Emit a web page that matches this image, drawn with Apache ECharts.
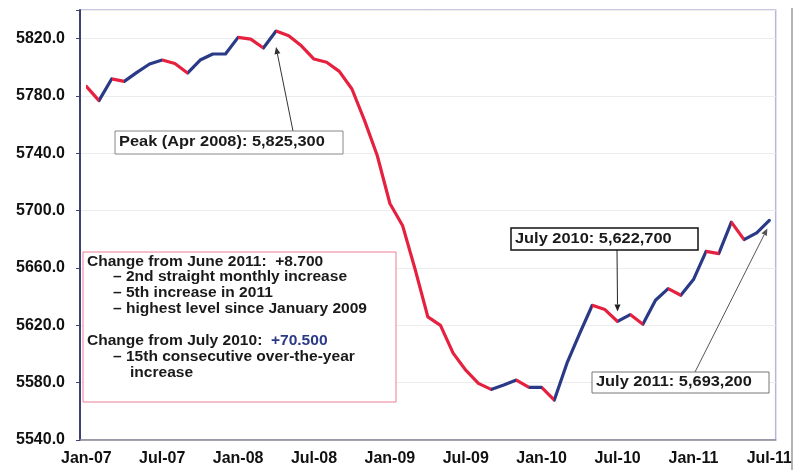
<!DOCTYPE html>
<html>
<head>
<meta charset="utf-8">
<script src="https://cdn.jsdelivr.net/npm/echarts@6/dist/echarts.min.js"></script>
<style>
  html, body { margin: 0; padding: 0; background: #fff; }
  #main { width: 795px; height: 470px; }
</style>
</head>
<body>
<div id="main"></div>
<script>
// monthly employment level, thousands (Jan 2007 - Jul 2011)
const categories = [
  'Jan-07','Feb-07','Mar-07','Apr-07','May-07','Jun-07','Jul-07','Aug-07','Sep-07','Oct-07','Nov-07','Dec-07',
  'Jan-08','Feb-08','Mar-08','Apr-08','May-08','Jun-08','Jul-08','Aug-08','Sep-08','Oct-08','Nov-08','Dec-08',
  'Jan-09','Feb-09','Mar-09','Apr-09','May-09','Jun-09','Jul-09','Aug-09','Sep-09','Oct-09','Nov-09','Dec-09',
  'Jan-10','Feb-10','Mar-10','Apr-10','May-10','Jun-10','Jul-10','Aug-10','Sep-10','Oct-10','Nov-10','Dec-10',
  'Jan-11','Feb-11','Mar-11','Apr-11','May-11','Jun-11','Jul-11'
];
const employment = [
  5786.7, 5776.8, 5791.9, 5790.2, 5796.5, 5802.3, 5805.1, 5802.7, 5796.0, 5805.1, 5809.3, 5809.3,
  5820.9, 5819.7, 5813.5, 5825.3, 5822.0, 5815.0, 5805.8, 5803.5, 5797.2, 5784.9, 5762.8, 5738.5,
  5705.0, 5689.7, 5659.0, 5625.9, 5620.0, 5600.6, 5588.7, 5579.5, 5575.3, 5578.3, 5581.8, 5576.7,
  5576.7, 5567.9, 5593.6, 5614.3, 5634.0, 5631.0, 5622.7, 5627.5, 5620.8, 5637.5, 5645.6, 5641.0,
  5651.9, 5671.6, 5670.0, 5692.0, 5679.8, 5684.5, 5693.2
];
const yTicks = { min: 5540, max: 5840, step: 40 };

const UP = '#2b3a86';
const DOWN = '#e5213f';
const FONT = '"Liberation Sans", Arial, sans-serif';

// colour each segment by direction of change
const pieces = [];
for (let i = 0; i < employment.length - 1; i++) {
  pieces.push({ gte: i, lt: i + 1, color: employment[i + 1] >= employment[i] ? UP : DOWN });
}
pieces.push({ gte: employment.length - 1, color: UP });

const everySix = (idx) => idx % 6 === 0;

const chart = echarts.init(document.getElementById('main'));
chart.setOption({
  animation: false,
  grid: { left: 80, right: 17, top: 10, bottom: 30, show: true, borderColor: '#b6b6dc', borderWidth: 1.5 },
  xAxis: {
    type: 'category',
    data: categories,
    boundaryGap: true,
    axisLine: { lineStyle: { color: '#8a8a96', width: 1.5 } },
    axisTick: { interval: everySix, length: 5, lineStyle: { color: '#8a8a96' } },
    axisLabel: {
      interval: everySix, margin: 11,
      color: '#111', fontFamily: FONT, fontWeight: 'bold', fontSize: 16
    },
    splitLine: { show: false }
  },
  yAxis: {
    type: 'value',
    min: yTicks.min, max: yTicks.max, interval: yTicks.step,
    axisLine: { show: true, lineStyle: { color: '#3e4270', width: 2 } },
    axisTick: { show: true, length: 4, lineStyle: { color: '#3e4270' } },
    axisLabel: {
      margin: 15, color: '#111', fontFamily: FONT, fontWeight: 'bold', fontSize: 16,
      formatter: (v) => (v >= yTicks.max ? '' : v.toFixed(1))
    },
    splitLine: { lineStyle: { color: '#ececec' } }
  },
  visualMap: { show: false, type: 'piecewise', dimension: 0, seriesIndex: 0, pieces: pieces },
  series: [{
    type: 'line',
    data: employment,
    symbol: 'none',
    lineStyle: { width: 3.2, join: 'round', cap: 'round' },
    z: 5
  }]
});

// annotations
function arrow(x1, y1, x2, y2, color) {
  const ang = Math.atan2(y2 - y1, x2 - x1);
  const L = 7, W = 3;
  const bx = x2 - L * Math.cos(ang), by = y2 - L * Math.sin(ang);
  return [
    { type: 'line', shape: { x1: x1, y1: y1, x2: bx, y2: by }, style: { stroke: color, lineWidth: 1 }, z: 20 },
    { type: 'polygon', shape: { points: [
        [x2, y2],
        [bx + W * Math.sin(ang), by - W * Math.cos(ang)],
        [bx - W * Math.sin(ang), by + W * Math.cos(ang)]
      ] }, style: { fill: color }, z: 20 }
  ];
}
function box(x, y, w, h, text, stroke, lw) {
  return [
    { type: 'rect', shape: { x: x, y: y, width: w, height: h }, style: { fill: '#fff', stroke: stroke, lineWidth: lw }, z: 21 },
    { type: 'text', x: x + 4, y: y + h / 2, scaleX: 1.17, style: { text: text, fill: '#1a1a1a', font: 'bold 14px ' + FONT, verticalAlign: 'middle' }, z: 22 }
  ];
}

const peak = chart.convertToPixel({ seriesIndex: 0 }, [15, employment[15]]);
const jul10 = chart.convertToPixel({ seriesIndex: 0 }, [42, employment[42]]);
const jul11 = chart.convertToPixel({ seriesIndex: 0 }, [54, employment[54]]);

const textLines = [
  { x: 87, y: 262, t: '{b|Change from June 2011:  +8.700}' },
  { x: 113, y: 277, t: '{b|– 2nd straight monthly increase}' },
  { x: 113, y: 293, t: '{b|– 5th increase in 2011}' },
  { x: 113, y: 309, t: '{b|– highest level since January 2009}' },
  { x: 87, y: 341, t: '{b|Change from July 2010:  }{v|+70.500}' },
  { x: 113, y: 357, t: '{b|– 15th consecutive over-the-year}' },
  { x: 130, y: 373, t: '{b|increase}' }
];

const elements = [].concat(
  arrow(293, 131, peak[0], peak[1] + 16, '#333'),
  box(115, 131, 228, 23, 'Peak (Apr 2008): 5,825,300', '#888', 1),
  arrow(617, 250, jul10[0], jul10[1] - 10, '#222'),
  box(511, 228, 187, 22, 'July 2010: 5,622,700', '#111', 1.5),
  arrow(695, 372, jul11[0] - 2, jul11[1] + 8, '#555'),
  box(592, 372, 177, 21, 'July 2011: 5,693,200', '#777', 1),
  [{ type: 'rect', shape: { x: 83, y: 252, width: 313, height: 150 }, style: { fill: '#fff', stroke: '#ea7f95', lineWidth: 1 }, z: 21 }],
  textLines.map((l) => ({
    type: 'text', x: l.x, y: l.y, z: 22, scaleX: 1.11,
    style: {
      text: l.t, verticalAlign: 'middle',
      rich: {
        b: { font: 'bold 14px ' + FONT, fill: '#1a1a1a' },
        v: { font: 'bold 14px ' + FONT, fill: '#2b3a86' }
      }
    }
  })),
  [{ type: 'line', shape: { x1: 792, y1: 8, x2: 792, y2: 470 }, style: { stroke: '#9a9a9a', lineWidth: 1.5 }, z: 1 }]
);

chart.setOption({ graphic: { elements: elements } });
</script>
</body>
</html>
